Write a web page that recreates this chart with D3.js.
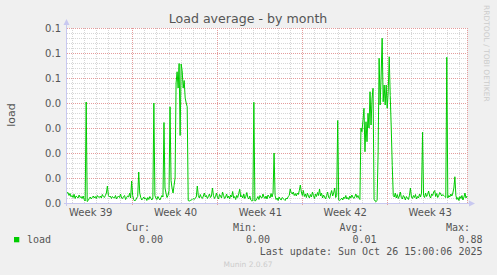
<!DOCTYPE html>
<html><head><meta charset="utf-8">
<script src="https://cdn.jsdelivr.net/npm/d3@7"></script>
<style>html,body{margin:0;padding:0;background:#f0f0f0;} svg{display:block}</style>
</head><body>
<script>
const title = "Load average - by month";
const yLabel = "load";
const startTime = new Date(Date.UTC(2025, 8, 23, 15, 0, 0));
const endTime = new Date(Date.UTC(2025, 9, 26, 15, 0, 0));
const stepHours = 2;
// 2-hour samples (axis units)
const loadValues = [
0.0040,0.0042,0.0030,0.0038,0.0025,0.0030,0.0022,0.0035,0.0018,0.0028,0.0024,0.0020,0.0032,0.0022,0.0026,0.0018,0.0028,0.0014,0.0008,
0.0404,0.0006,
0.0010,0.0018,0.0024,0.0016,0.0022,0.0028,0.0020,0.0026,0.0018,0.0030,0.0024,0.0022,0.0028,0.0020,0.0034,0.0026,0.0022,0.0030,0.0040,
0.0068,
0.0030,0.0024,0.0028,0.0018,0.0026,0.0022,0.0020,0.0030,0.0016,0.0024,0.0028,0.0022,0.0036,0.0020,0.0018,0.0026,0.0030,0.0014,0.0022,0.0028,0.0024,0.0040,0.0020,
0.0088,
0.0030,0.0014,0.0008,0.0012,0.0020,0.0026,
0.0124,
0.0040,0.0022,0.0012,0.0018,0.0024,0.0016,0.0020,0.0010,0.0022,0.0014,0.0026,0.0018,0.0012,0.0020,
0.0400,
0.0030,0.0020,0.0014,0.0026,0.0018,0.0012,0.0022,0.0030,0.0024,
0.0322,
0.0060,0.0040,0.0022,0.0030,0.0050,
0.0385,
0.0090,0.0060,0.0040,0.0070,0.0100,
0.0480,0.0525,0.0460,0.0558,0.0270,0.0556,0.0530,0.0460,0.0490,0.0420,0.0400,0.0385,
0.0010,0.0008,0.0010,0.0012,0.0014,0.0018,0.0014,0.0020,0.0024,
0.0068,
0.0030,0.0020,0.0034,0.0022,0.0018,0.0028,0.0040,0.0024,0.0030,0.0018,0.0026,0.0036,0.0022,0.0028,
0.0060,
0.0030,0.0018,0.0026,0.0040,0.0022,0.0016,0.0034,0.0028,0.0020,0.0044,0.0030,0.0018,0.0024,0.0036,0.0020,0.0028,0.0016,0.0032,0.0024,0.0046,0.0020,0.0026,0.0014,0.0030,0.0022,0.0038,
0.0055,
0.0024,0.0030,0.0020,0.0036,0.0018,0.0026,0.0042,0.0022,0.0016,0.0028,0.0012,0.0008,0.0010,
0.0403,
0.0008,0.0010,0.0018,0.0026,0.0014,0.0030,0.0022,0.0020,0.0036,0.0024,0.0018,0.0028,0.0016,0.0032,0.0026,0.0020,0.0038,0.0024,
0.0040,0.0200,0.0030,
0.0014,0.0020,0.0010,0.0024,0.0016,0.0012,0.0022,0.0018,0.0014,0.0010,0.0020,0.0016,0.0026,0.0030,
0.0056,
0.0040,0.0036,0.0044,0.0030,0.0038,0.0028,0.0040,0.0034,0.0050,
0.0072,
0.0044,0.0030,0.0050,0.0026,0.0036,0.0022,0.0040,0.0028,0.0020,0.0034,0.0024,0.0044,0.0030,0.0018,0.0036,0.0026,0.0042,0.0030,
0.0056,
0.0028,0.0040,0.0020,0.0032,0.0024,0.0016,0.0030,0.0044,0.0022,0.0018,0.0036,0.0050,0.0028,0.0040,
0.0060,0.0022,0.0030,0.0330,0.0012,
0.0010,0.0014,0.0020,0.0012,0.0024,0.0018,0.0030,0.0016,0.0022,0.0014,0.0028,0.0020,0.0032,0.0024,0.0018,0.0026,0.0036,0.0022,0.0030,0.0020,0.0014,
0.0300,0.0285,0.0330,0.0379,0.0205,0.0325,0.0245,0.0359,0.0300,0.0445,0.0312,0.0419,0.0459,
0.0015,0.0008,0.0006,0.0010,
0.0200,
0.0579,0.0392,0.0512,0.0659,0.0405,0.0472,0.0392,0.0472,0.0379,0.0445,0.0585,
0.0430,0.0300,0.0150,0.0030,
0.0024,0.0040,0.0020,0.0034,0.0018,0.0028,0.0044,0.0022,0.0016,0.0030,0.0024,0.0012,0.0026,0.0020,0.0014,0.0030,
0.0060,
0.0024,0.0018,0.0030,0.0022,0.0034,0.0016,0.0026,0.0020,0.0036,0.0024,0.0040,
0.0283,
0.0030,0.0022,0.0040,0.0026,0.0034,0.0048,0.0028,0.0020,0.0036,0.0030,0.0044,0.0050,0.0026,0.0038,0.0022,0.0030,0.0042,0.0036,0.0028,0.0034,0.0030,0.0026,0.0022,
0.0583,
0.0020,0.0030,0.0024,0.0036,0.0028,0.0040,0.0060,
0.0105,
0.0030,0.0014,0.0022,0.0010,0.0026,0.0018,0.0030,0.0012,0.0024,0.0040,0.0020,0.0028
];
const yTickValues = [0, 0.01, 0.02, 0.03, 0.04, 0.05, 0.06, 0.07];
const yTickLabels = ["0.0", "0.0", "0.0", "0.0", "0.0", "0.1", "0.1", "0.1"];
const weekStarts = [Date.UTC(2025,8,22), Date.UTC(2025,8,29), Date.UTC(2025,9,6), Date.UTC(2025,9,13), Date.UTC(2025,9,20)];
const weekLabels = ["Week 39", "Week 40", "Week 41", "Week 42", "Week 43"];
const legendName = "load";
const legendHeaders = ["Cur:", "Min:", "Avg:", "Max:"];
const legendValues = ["0.00", "0.00", "0.01", "0.88"];
const lastUpdate = "Last update: Sun Oct 26 15:00:06 2025";
const credit = "Munin 2.0.67";
const sideText = "RRDTOOL / TOBI OETIKER";

const W = 497, H = 275;
const P = {l: 67, r: 467, t: 28, b: 203};
const SANS = "'DejaVu Sans', sans-serif";
const MONO = "'DejaVu Sans Mono', monospace";
const TXT = "#555";

const svg = d3.select("body").append("svg").attr("width", W).attr("height", H);
svg.append("rect").attr("width", W).attr("height", H).attr("fill", "#f0f0f0");
svg.append("rect").attr("x", P.l).attr("y", P.t).attr("width", P.r - P.l).attr("height", P.b - P.t).attr("fill", "#ffffff");

const x = d3.scaleUtc().domain([startTime, endTime]).range([P.l, P.r]);
const y = d3.scaleLinear().domain([0, 0.07]).range([P.b, P.t]);
const px = v => Math.round(v) + 0.5;

const grid = svg.append("g").attr("shape-rendering", "crispEdges");
const mondays = d3.utcMonday.range(startTime, endTime);
const mondaySet = new Set(mondays.map(d => +d));
// minor horizontal
grid.selectAll(".mh").data(y.ticks(35).filter(v => !yTickValues.some(t => Math.abs(t - v) < 1e-9))).join("line")
  .attr("x1", P.l).attr("x2", P.r).attr("y1", d => px(y(d))).attr("y2", d => px(y(d)))
  .attr("stroke", "#d6d6d6").attr("stroke-dasharray", "1,1");
// minor vertical (days)
grid.selectAll(".mv").data(d3.utcDay.range(startTime, endTime).filter(d => !mondaySet.has(+d))).join("line")
  .attr("y1", P.t).attr("y2", P.b).attr("x1", d => px(x(d))).attr("x2", d => px(x(d)))
  .attr("stroke", "#d6d6d6").attr("stroke-dasharray", "1,1");
// major horizontal
grid.selectAll(".Mh").data(yTickValues).join("line")
  .attr("x1", P.l).attr("x2", P.r).attr("y1", d => px(y(d))).attr("y2", d => px(y(d)))
  .attr("stroke", "#e49c9c").attr("stroke-dasharray", "1,1");
// major vertical (weeks)
grid.selectAll(".Mv").data(mondays).join("line")
  .attr("y1", P.t).attr("y2", P.b + 3).attr("x1", d => px(x(d))).attr("x2", d => px(x(d)))
  .attr("stroke", "#e49c9c").attr("stroke-dasharray", "1,1");
grid.append("line").attr("y1", P.t).attr("y2", P.b).attr("x1", px(P.r)).attr("x2", px(P.r))
  .attr("stroke", "#e49c9c").attr("stroke-dasharray", "1,1");

// data line
const line = d3.line()
  .x((d, i) => x(new Date(startTime.getTime() + i * stepHours * 3600e3)))
  .y(d => y(d));
svg.append("path").datum(loadValues).attr("d", line)
  .attr("fill", "none").attr("stroke", "#00cc00").attr("stroke-width", 1);

// axes
const AX = "#c8c8f0";
svg.append("line").attr("x1", P.l - 0.5).attr("x2", P.l - 0.5).attr("y1", P.b + 3).attr("y2", P.t - 4)
  .attr("stroke", AX).attr("shape-rendering", "crispEdges");
svg.append("line").attr("x1", P.l - 3).attr("x2", P.r + 3).attr("y1", P.b + 0.5).attr("y2", P.b + 0.5)
  .attr("stroke", AX).attr("shape-rendering", "crispEdges");
svg.append("path").attr("d", `M${P.l - 3.5},${P.t - 3} L${P.l - 0.5},${P.t - 9} L${P.l + 2.5},${P.t - 3} Z`).attr("fill", AX);
svg.append("path").attr("d", `M${P.r + 2},${P.b - 2.5} L${P.r + 8},${P.b + 0.5} L${P.r + 2},${P.b + 3.5} Z`).attr("fill", AX);

// y tick labels
svg.selectAll(".yl").data(yTickValues).join("text")
  .attr("x", 61).attr("y", d => y(d) + 3.7).attr("text-anchor", "end")
  .attr("font-family", SANS).attr("font-size", 10).attr("fill", TXT)
  .text((d, i) => yTickLabels[i]);

// week labels
svg.selectAll(".xl").data(weekStarts).join("text")
  .attr("x", d => x(new Date(d + 3.5 * 864e5)) + 1).attr("y", 216).attr("text-anchor", "middle")
  .attr("font-family", SANS).attr("font-size", 10).attr("fill", TXT)
  .text((d, i) => weekLabels[i]);

// title
svg.append("text").attr("x", 248).attr("y", 23).attr("text-anchor", "middle")
  .attr("font-family", SANS).attr("font-size", 12.6).attr("fill", TXT).text(title);
// y label
svg.append("text").attr("transform", "translate(14.5,115) rotate(-90)").attr("text-anchor", "middle")
  .attr("font-family", SANS).attr("font-size", 11).attr("fill", TXT).text(yLabel);
// side text
svg.append("text").attr("transform", "translate(484,5) rotate(90)")
  .attr("font-family", SANS).attr("font-size", 7.5).attr("fill", "#cccccc").text(sideText);

// legend
svg.append("rect").attr("x", 14).attr("y", 237).attr("width", 5.3).attr("height", 5.3).attr("fill", "#00cc00");
svg.append("text").attr("x", 27).attr("y", 242.7).attr("font-family", MONO).attr("font-size", 10).attr("fill", TXT).text(legendName);
const headX = [150, 257, 363.5, 470];
const valX = [163, 270, 376.5, 482.5];
legendHeaders.forEach((h, i) => {
  svg.append("text").attr("x", headX[i]).attr("y", 230.7).attr("text-anchor", "end")
    .attr("font-family", MONO).attr("font-size", 10).attr("fill", TXT).text(h);
  svg.append("text").attr("x", valX[i]).attr("y", 242.7).attr("text-anchor", "end")
    .attr("font-family", MONO).attr("font-size", 10).attr("fill", TXT).text(legendValues[i]);
});
svg.append("text").attr("x", 482.5).attr("y", 255).attr("text-anchor", "end")
  .attr("font-family", MONO).attr("font-size", 10).attr("fill", TXT).text(lastUpdate);
svg.append("text").attr("x", 248).attr("y", 266.7).attr("text-anchor", "middle")
  .attr("font-family", SANS).attr("font-size", 7.5).attr("fill", "#cccccc").text(credit);
</script>
</body></html>
